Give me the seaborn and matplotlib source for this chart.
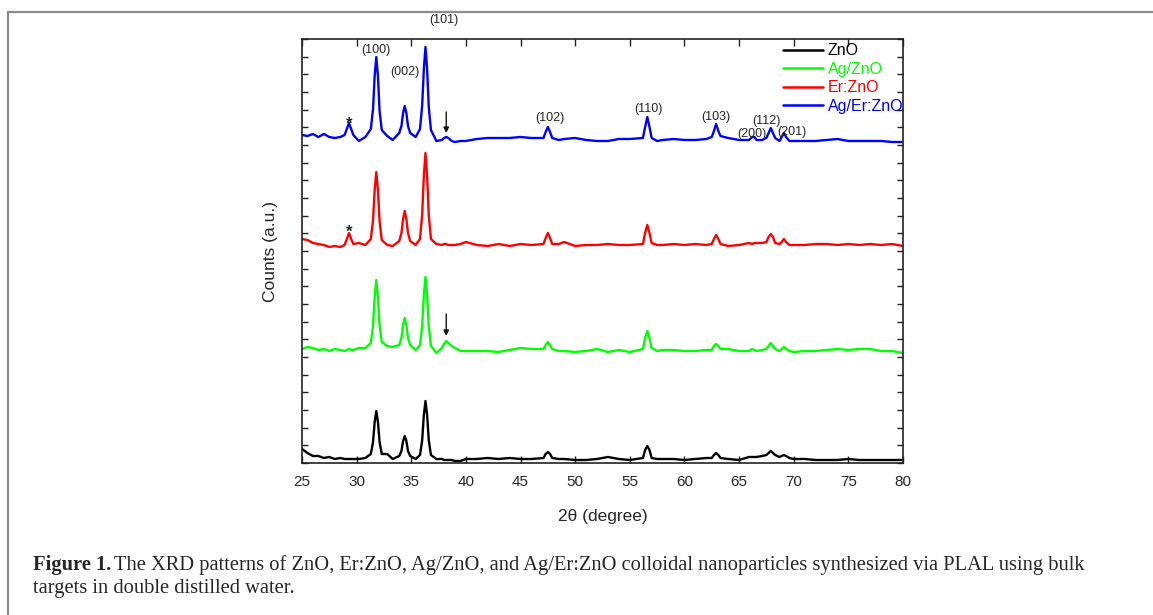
import numpy as np
import pandas as pd
import matplotlib
matplotlib.use("Agg")
import matplotlib.pyplot as plt
import seaborn as sns
from matplotlib.lines import Line2D

# ---------------- data ----------------
two_theta = [25, 25.5, 26, 26.5, 27, 27.5, 28, 28.5, 28.9, 29.1, 29.3, 29.5, 29.7, 30.2, 30.8,
             31.3, 31.5, 31.65, 31.8, 31.95, 32.1, 32.3, 32.8, 33.3,
             33.9, 34.1, 34.25, 34.4, 34.55, 34.7, 34.9, 35.4,
             35.8, 36.0, 36.15, 36.3, 36.45, 36.6, 36.8, 37.3, 37.8,
             38.0, 38.2, 38.4, 38.7, 39.0, 39.5, 40, 41, 42, 43, 44, 45, 46,
             47.1, 47.3, 47.5, 47.7, 47.9, 48.5, 49, 50, 51, 52, 53, 54, 55,
             56.2, 56.4, 56.6, 56.8, 57.0, 57.5, 58, 59, 60, 61, 62,
             62.5, 62.7, 62.9, 63.1, 63.3, 64, 65, 65.9, 66.2, 66.4, 66.6, 67.1,
             67.5, 67.7, 67.9, 68.1, 68.3, 68.7, 68.9, 69.1, 69.3, 69.6, 70,
             71, 72, 73, 74, 75, 76, 77, 78, 79, 80]

counts_zno = [14, 10, 7, 7, 5, 6, 4, 5, 4, 4, 4, 4, 4, 4, 5,
              9, 21, 41, 52, 41, 21, 9, 9, 4,
              7, 12, 22, 27, 22, 12, 7, 4,
              8, 23, 48, 62, 48, 23, 8, 4, 4,
              3, 3, 3, 3, 2, 2, 4, 4, 5, 4, 5, 4, 4,
              5, 9, 11, 9, 5, 4, 4, 3, 3, 4, 6, 4, 3,
              5, 13, 17, 13, 5, 4, 4, 4, 3, 4, 5,
              5, 8, 10, 8, 5, 4, 3, 6, 6, 6, 6, 7,
              8, 10, 12, 10, 8, 6, 7, 8, 7, 5, 4,
              4, 3, 3, 3, 4, 3, 3, 3, 3, 3]

counts_ag_zno = [114, 116, 115, 113, 114, 112, 114, 113, 112, 113, 114, 113, 113, 115, 115,
                 120, 137, 166, 183, 166, 138, 121, 117, 116,
                 118, 125, 138, 145, 138, 125, 118, 113,
                 118, 138, 168, 186, 168, 137, 117, 110, 115,
                 119, 122, 120, 117, 115, 112, 112, 112, 112, 111, 113, 115, 114,
                 114, 118, 121, 118, 114, 112, 112, 111, 112, 114, 111, 113, 111,
                 114, 125, 132, 125, 115, 112, 113, 113, 112, 112, 113,
                 113, 117, 119, 117, 114, 114, 112, 112, 114, 113, 112, 113,
                 114, 117, 120, 117, 114, 112, 114, 116, 114, 112, 111,
                 112, 112, 113, 114, 113, 114, 114, 112, 112, 110]

counts_er_zno = [224, 223, 220, 219, 218, 216, 217, 216, 218, 224, 230, 224, 219, 220, 218,
                 224, 243, 273, 291, 273, 242, 223, 218, 217,
                 222, 230, 244, 252, 244, 230, 222, 218,
                 224, 249, 287, 310, 287, 248, 224, 219, 218,
                 219, 219, 218, 218, 218, 219, 221, 218, 217, 219, 217, 219, 218,
                 219, 225, 230, 225, 219, 219, 221, 217, 218, 218, 219, 218, 218,
                 219, 230, 238, 230, 220, 218, 218, 219, 218, 219, 218,
                 219, 224, 228, 224, 219, 217, 218, 220, 219, 220, 220, 220,
                 221, 226, 229, 226, 220, 219, 221, 224, 221, 218, 218,
                 218, 219, 219, 218, 219, 218, 219, 218, 219, 217]

counts_ag_er_zno = [328, 327, 329, 326, 329, 326, 325, 326, 328, 334, 340, 334, 328, 322, 326,
                    334, 354, 387, 406, 387, 352, 333, 327, 323,
                    330, 337, 350, 357, 350, 337, 330, 326,
                    334, 358, 394, 416, 394, 356, 333, 322, 323,
                    325, 326, 325, 322, 321, 322, 322, 324, 325, 325, 325, 326, 325,
                    325, 331, 336, 331, 325, 323, 324, 325, 323, 322, 322, 324, 324,
                    325, 336, 346, 336, 325, 322, 323, 324, 323, 323, 324,
                    326, 332, 339, 332, 327, 325, 323, 323, 326, 326, 323, 323,
                    325, 330, 335, 330, 325, 322, 326, 330, 326, 322, 322,
                    322, 322, 323, 324, 322, 322, 322, 322, 321, 321]

samples = ["ZnO", "Ag/ZnO", "Er:ZnO", "Ag/Er:ZnO"]
sample_colors = ["#000000", "#00ff00", "#ff0000", "#0000ff"]

peak_labels = ["(100)", "(002)", "(101)", "(102)", "(110)", "(103)", "(200)", "(112)", "(201)"]

x_ticks = [25, 30, 35, 40, 45, 50, 55, 60, 65, 70, 75, 80]

# ---------------- layout (positions for annotations) ----------------
label_pos = [(31.8, 413), (34.4, 391), (38.0, 443), (47.7, 345), (56.7, 354),
             (62.9, 346), (66.2, 329), (67.5, 342), (69.8, 331)]
star_pos = [(29.3, 339), (29.3, 231)]
arrow_pos = [(38.2, 351, 330), (38.2, 149, 127)]

# ---------------- build long dataframe ----------------
series = [counts_zno, counts_ag_zno, counts_er_zno, counts_ag_er_zno]
frames = []
for name, vals in zip(samples, series):
    assert len(vals) == len(two_theta), (name, len(vals), len(two_theta))
    frames.append(pd.DataFrame({"two_theta": two_theta, "counts": vals, "sample": name}))
df = pd.concat(frames, ignore_index=True)

sns.set_style("ticks")
plt.rcParams["font.family"] = ["Liberation Sans", "DejaVu Sans"]

W, H = 1153, 615
fig = plt.figure(figsize=(W / 100, H / 100), dpi=100)
ax = fig.add_axes([302 / W, 1 - 463 / H, (903 - 302) / W, (463 - 39) / H])

sns.lineplot(data=df, x="two_theta", y="counts", hue="sample", hue_order=samples,
             palette=dict(zip(samples, sample_colors)), estimator=None, sort=False,
             linewidth=1.7, ax=ax, legend=False)
for ln in ax.get_lines():
    ln.set_solid_joinstyle("round")

ax.set_xlim(25, 80)
ax.set_ylim(0, 424)
ax.set_xticks(x_ticks)
ax.set_xticklabels([str(t) for t in x_ticks], fontsize=11)
ax.set_yticks(np.linspace(0, 424, 25))
ax.set_yticklabels([])
ax.tick_params(axis="both", direction="in", top=True, right=True, width=1.0, color="#222222")
ax.tick_params(axis="x", length=5, pad=9)
ax.tick_params(axis="y", length=4)
for sp in ax.spines.values():
    sp.set_linewidth(1.2)
    sp.set_color("#222222")
    sp.set_visible(True)

ax.set_xlabel("2\u03b8 (degree)", fontsize=12.5, labelpad=14)
ax.set_ylabel("Counts (a.u.)", fontsize=12.5, labelpad=14)

# peak labels
for lab, (px, py) in zip(peak_labels, label_pos):
    ax.text(px, py, lab, fontsize=9, ha="center", va="center", clip_on=False)
for sx, sy in star_pos:
    ax.text(sx, sy, "*", fontsize=12, ha="center", va="center", fontweight="bold")
for axx, y0, y1 in arrow_pos:
    ax.annotate("", xy=(axx, y1), xytext=(axx, y0),
                arrowprops=dict(arrowstyle="-|>", color="#111111", lw=1.0, mutation_scale=8,
                                shrinkA=0, shrinkB=0))

# legend
handles = [Line2D([0], [0], color=c, lw=1.8) for c in sample_colors]
leg = ax.legend(handles, samples, loc="upper right", bbox_to_anchor=(1.006, 0.997),
                frameon=False, fontsize=11.5, handlelength=2.5, handletextpad=0.3,
                labelspacing=0.22, borderaxespad=0.1, borderpad=0.1)
for t, c in zip(leg.get_texts(), sample_colors):
    t.set_color(c)

# outer frame (top and left edges of the figure box)
fig.add_artist(Line2D([8 / W, 1.0], [1 - 12 / H, 1 - 12 / H], color="#8a8a8a", lw=1.6))
fig.add_artist(Line2D([8 / W, 8 / W], [0, 1 - 12 / H], color="#8a8a8a", lw=1.6))

# caption
cap_font = ["Liberation Serif", "DejaVu Serif"]
cap_size = 14.75
t_bold = fig.text(33 / W, 1 - 565 / H, "Figure 1.", fontsize=cap_size, fontweight="bold",
                  family=cap_font, va="center", ha="left")
fig.canvas.draw()
r = fig.canvas.get_renderer()
bb = t_bold.get_window_extent(renderer=r)
fig.text((bb.x1 + 3) / W, 1 - 565 / H,
         "The XRD patterns of ZnO, Er:ZnO, Ag/ZnO, and Ag/Er:ZnO colloidal nanoparticles "
         "synthesized via PLAL using bulk",
         fontsize=cap_size, family=cap_font, va="center", ha="left")
fig.text(33 / W, 1 - 588 / H, "targets in double distilled water.",
         fontsize=cap_size, family=cap_font, va="center", ha="left")

fig.savefig("out.png", dpi=100)
